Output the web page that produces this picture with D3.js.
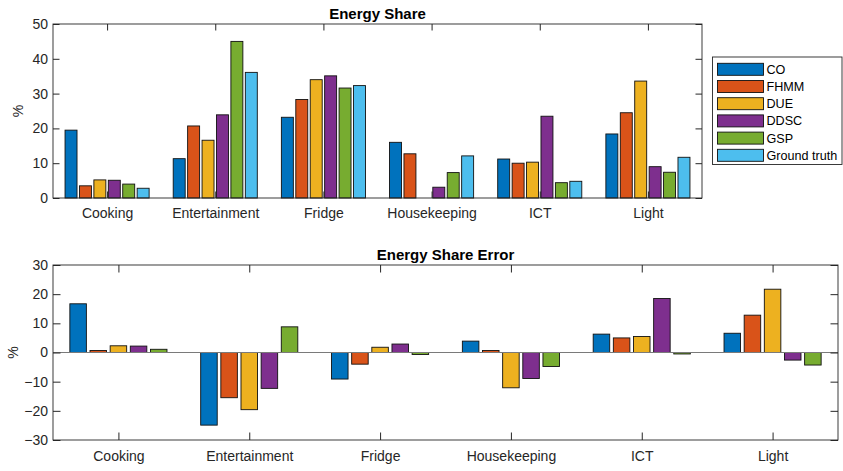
<!DOCTYPE html>
<html><head><meta charset="utf-8">
<script src="https://cdn.jsdelivr.net/npm/d3@7"></script>
<style>
body{margin:0;background:#fff;}
svg{display:block;font-family:"Liberation Sans",Arial,Helvetica,sans-serif;}
</style></head>
<body>
<svg id="c" width="843" height="471"></svg>
<script>
const categories = ["Cooking","Entertainment","Fridge","Housekeeping","ICT","Light"];
const shareSeries = ["CO","FHMM","DUE","DDSC","GSP","Ground truth"];
const errorSeries = ["CO","FHMM","DUE","DDSC","GSP"];
const colors = ["#0072BD","#D95319","#EDB120","#7E2F8E","#77AC30","#4DBEEE"];

// Energy share (%) per category, one array per series
const shareCO   = [19.5, 11.3, 23.2, 16.0, 11.2, 18.4];
const shareFHMM = [3.5, 20.7, 28.3, 12.7, 10.0, 24.5];
const shareDUE  = [5.2, 16.6, 34.0, 0.0, 10.3, 33.6];
const shareDDSC = [5.1, 23.9, 35.1, 3.1, 23.5, 9.0];
const shareGSP  = [4.0, 45.0, 31.6, 7.3, 4.4, 7.4];
const shareGT   = [2.8, 36.1, 32.3, 12.1, 4.8, 11.7];

// Energy share error (%)
const errCO   = [16.7, -24.9, -9.1, 3.9, 6.3, 6.6];
const errFHMM = [0.7, -15.5, -4.0, 0.7, 5.0, 12.8];
const errDUE  = [2.3, -19.6, 1.8, -12.1, 5.5, 21.7];
const errDDSC = [2.2, -12.3, 2.9, -8.9, 18.5, -2.6];
const errGSP  = [1.1, 8.8, -0.7, -4.8, -0.5, -4.3];

const shareTicks = [0,10,20,30,40,50];
const errorTicks = [-30,-20,-10,0,10,20,30];

const shareData = [shareCO, shareFHMM, shareDUE, shareDDSC, shareGSP, shareGT];
const errorData = [errCO, errFHMM, errDUE, errDDSC, errGSP];

const svg = d3.select("#c");
const axCol = "#262626";

function panel(opt){
  const {x0px, x1px, y0px, y1px, domain, ticks, series, data, title, padOuter, padInner, innerPad, tickLen, ylabX, titleY, xlabY} = opt;
  const g = svg.append("g");
  const x0 = d3.scaleBand().domain(categories).range([x0px, x1px]).paddingInner(padInner).paddingOuter(padOuter);
  const x1 = d3.scaleBand().domain(series).range([0, x0.bandwidth()]).paddingInner(innerPad).paddingOuter(innerPad/2);
  const y = d3.scaleLinear().domain(domain).range([y1px, y0px]);

  // bars
  series.forEach((s, si) => {
    g.append("g").selectAll("rect").data(categories).join("rect")
      .attr("x", c => x0(c) + x1(s))
      .attr("width", x1.bandwidth())
      .attr("y", (c, ci) => y(Math.max(0, data[si][ci])))
      .attr("height", (c, ci) => Math.abs(y(data[si][ci]) - y(0)))
      .attr("fill", colors[si])
      .attr("stroke", "#111")
      .attr("stroke-width", 0.9);
  });

  // baseline
  if (domain[0] < 0) {
    g.append("line").attr("x1", x0px).attr("x2", x1px).attr("y1", y(0)).attr("y2", y(0))
      .attr("stroke", "#7a7a7a").attr("stroke-width", 1);
  }

  // box
  g.append("rect").attr("x", x0px).attr("y", y0px).attr("width", x1px - x0px).attr("height", y1px - y0px)
    .attr("fill", "none").attr("stroke", axCol).attr("stroke-width", 0.9);

  // y ticks (left and right, inward)
  const yAxisL = d3.axisLeft(y).tickValues(ticks).tickSize(-tickLen).tickPadding(tickLen > 0 ? 5 - tickLen + tickLen : 5);
  const gl = g.append("g").attr("transform", `translate(${x0px},0)`).call(yAxisL);
  gl.select(".domain").remove();
  gl.selectAll("line").attr("stroke", axCol);
  gl.selectAll("text").attr("fill", axCol).style("font-size", "14px").attr("x", -5);
  const yAxisR = d3.axisRight(y).tickValues(ticks).tickSize(-tickLen).tickFormat("");
  const gr = g.append("g").attr("transform", `translate(${x1px},0)`).call(yAxisR);
  gr.select(".domain").remove();
  gr.selectAll("line").attr("stroke", axCol);

  // x ticks (top and bottom, inward)
  const xc = c => x0(c) + x0.bandwidth()/2;
  const xs = d3.scalePoint().domain(categories).range([xc(categories[0]), xc(categories[categories.length-1])]);
  const xAxisB = d3.axisBottom(xs).tickSize(-tickLen);
  const gb = g.append("g").attr("transform", `translate(0,${y1px})`).call(xAxisB);
  gb.select(".domain").remove();
  gb.selectAll("line").attr("stroke", axCol);
  gb.selectAll("text").attr("fill", axCol).style("font-size", "14px").attr("y", xlabY).attr("dy", 0);
  const xAxisT = d3.axisTop(xs).tickSize(-tickLen).tickFormat("");
  const gt = g.append("g").attr("transform", `translate(0,${y0px})`).call(xAxisT);
  gt.select(".domain").remove();
  gt.selectAll("line").attr("stroke", axCol);

  // y label
  g.append("text").attr("transform", `translate(${ylabX},${(y0px + y1px)/2}) rotate(-90)`)
    .attr("text-anchor", "middle").attr("fill", axCol).style("font-size", "14px").text("%");

  // title
  g.append("text").attr("x", (x0px + x1px)/2).attr("y", titleY).attr("text-anchor", "middle")
    .attr("fill", "#000").style("font-size", "15px").style("font-weight", "bold").text(title);
  return {x0, x1, y};
}

panel({x0px:53, x1px:702, y0px:24, y1px:198, domain:[0,50], ticks:shareTicks, series:shareSeries, data:shareData,
  title:"Energy Share", padInner:0.2, padOuter:0.1, innerPad:0.17, tickLen:6.5, ylabX:23, titleY:19, xlabY:20});

panel({x0px:53, x1px:838, y0px:265, y1px:440, domain:[-30,30], ticks:errorTicks, series:errorSeries, data:errorData,
  title:"Energy Share Error", padInner:0.23, padOuter:0.115, innerPad:0.18, tickLen:7.5, ylabX:18, titleY:260, xlabY:21});

// legend
const lg = svg.append("g");
const lx = 712.5, ly = 57, lw = 129.5, lh = 107.5;
lg.append("rect").attr("x", lx).attr("y", ly).attr("width", lw).attr("height", lh)
  .attr("fill", "#fff").attr("stroke", axCol).attr("stroke-width", 0.9);
const ly0 = 69.3, ldy = 17.2;
shareSeries.forEach((s, i) => {
  const cy = ly0 + i*ldy;
  lg.append("rect").attr("x", 717.5).attr("y", cy - 6).attr("width", 46).attr("height", 12)
    .attr("fill", colors[i]).attr("stroke", "#111").attr("stroke-width", 0.9);
  lg.append("text").attr("x", 766.5).attr("y", cy).attr("dy", "0.36em")
    .attr("fill", "#000").style("font-size", "12.6px").text(s);
});
</script>
</body></html>
